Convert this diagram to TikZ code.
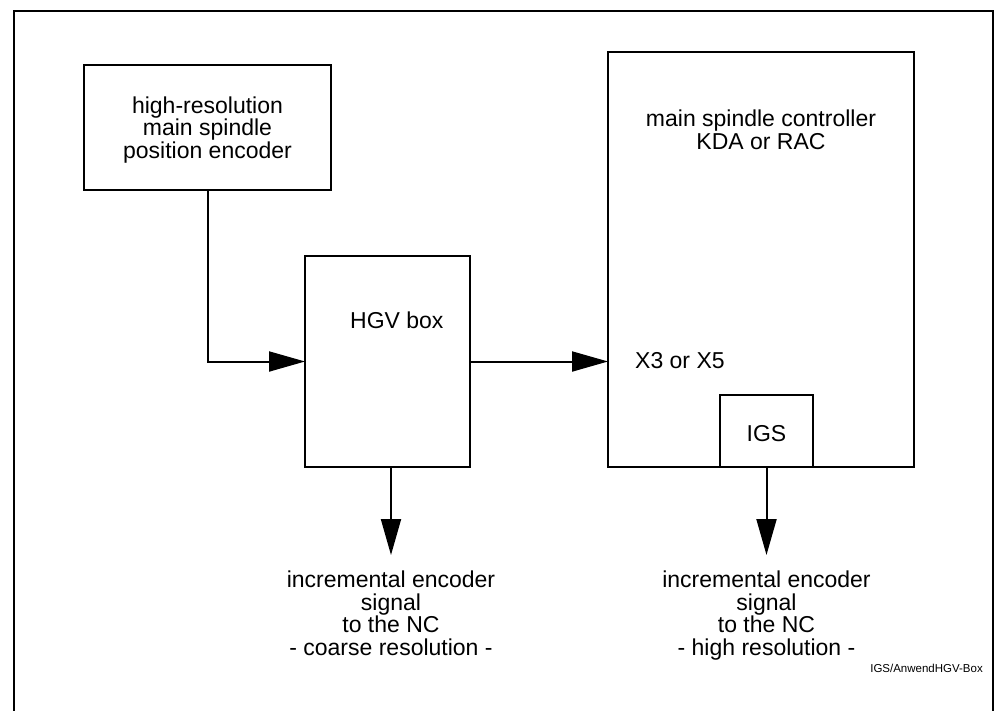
\documentclass[tikz,border=0pt]{standalone}
\usepackage{fontspec}
\setmainfont{Liberation Sans}
\usetikzlibrary{arrows.meta}
\begin{document}
\begin{tikzpicture}[x=1pt,y=-1pt,
  box/.style={draw,line width=2pt,inner sep=0pt,outer sep=0pt},
  txt/.style={inner sep=0pt,align=center,font=\fontsize{23}{22.5}\selectfont,anchor=base},
  arr/.style={line width=2pt,-{Triangle[length=36pt,width=20pt]}},
  frame/.style={line width=2.5pt}]
\useasboundingbox (0,0) rectangle (1001,710);
% frame (bottom edge is cut off)
\draw[frame] (14,712) -- (14,11) -- (993,11) -- (993,712);
% boxes
\node[box,minimum width=247pt,minimum height=125pt] (enc) at (207.5,127.5) {};
\node[box,minimum width=165pt,minimum height=211pt] (hgv) at (387.5,361.5) {};
\node[box,minimum width=306pt,minimum height=415pt] (ctrl) at (761,259.5) {};
\node[box,minimum width=93pt,minimum height=72pt] (igs) at (766.5,431) {};
% texts (anchor base = baseline of the last line)
\node[txt] (enct) at (207.5,158) {high-resolution\\main spindle\\position encoder};
\node[txt,anchor=base west] (hgvt) at (350,328) {HGV box};
\node[txt] (ctrlt) at (761,149) {main spindle controller\\KDA or RAC};
\node[txt,anchor=base west] (x3) at (635,368) {X3 or X5};
\node[txt] (igst) at (766.5,441) {IGS};
% outputs
\coordinate (o1) at (391,555);
\coordinate (o2) at (766.5,555);
\node[txt] (out1) at (391,655) {incremental encoder\\signal\\to the NC\\- coarse resolution -};
\node[txt] (out2) at (766.5,655) {incremental encoder\\signal\\to the NC\\- high resolution -};
\node[inner sep=0pt,anchor=base east,font=\fontsize{11.5}{13}\selectfont] (ref) at (983,672) {IGS/AnwendHGV-Box};
% connectors
\draw[arr] (enc.south) |- (hgv.west);
\draw[arr] (hgv.east) -- (hgv.east -| ctrl.west);
\draw[arr] (o1 |- hgv.south) -- (o1);
\draw[arr] (igs.south) -- (o2);
\end{tikzpicture}
\end{document}
